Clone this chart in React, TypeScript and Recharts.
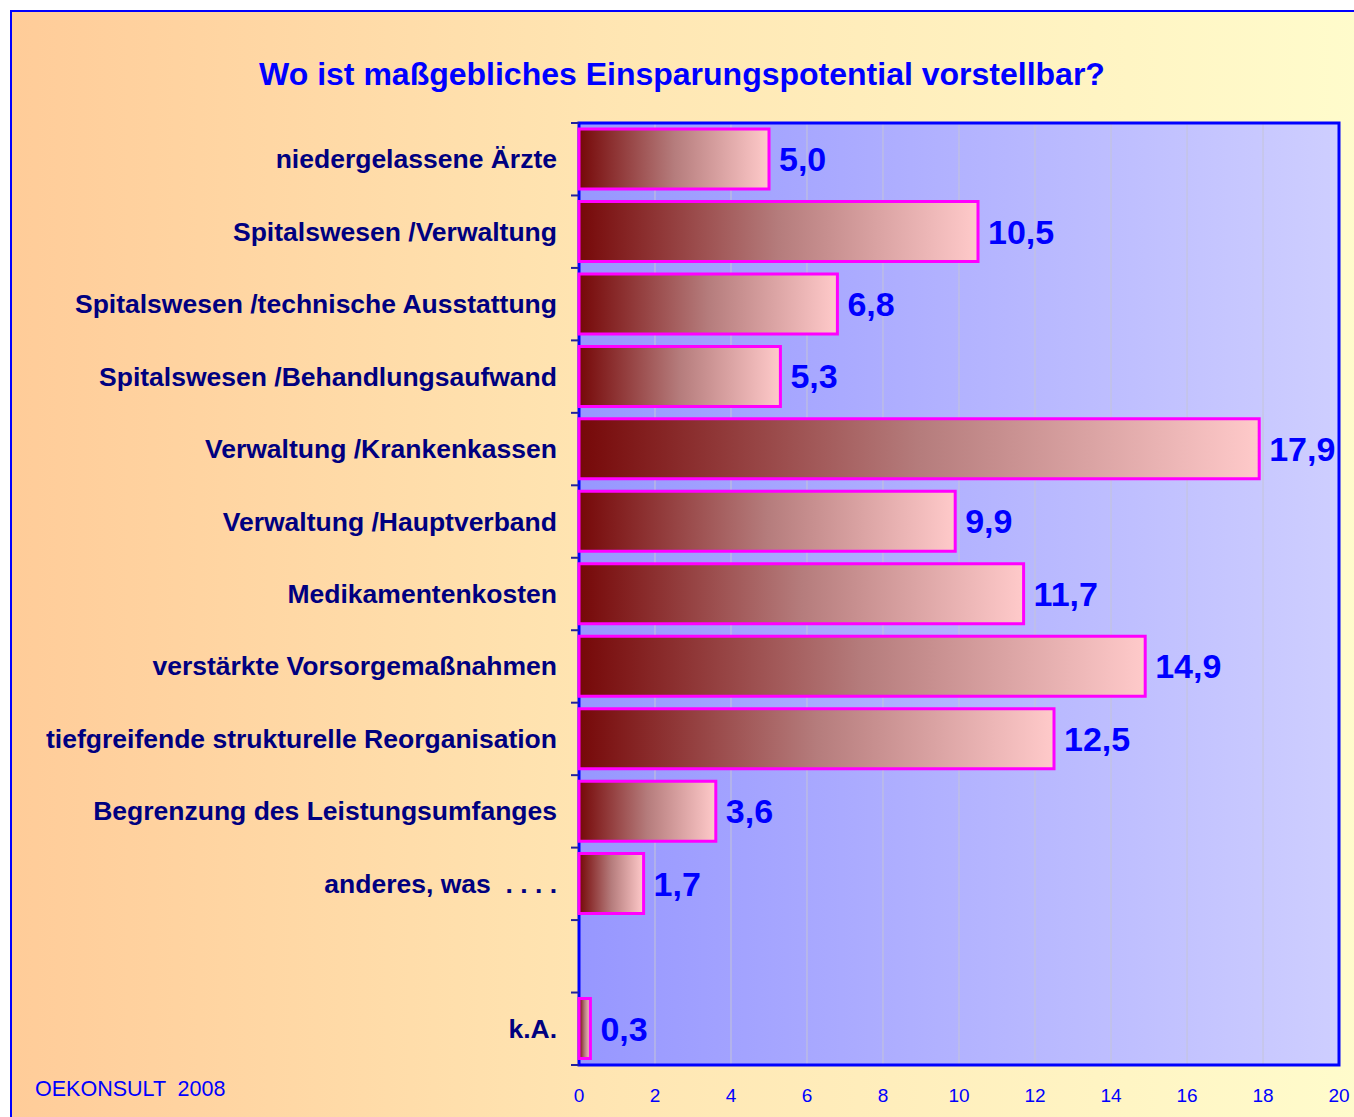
import { BarChart, Bar, XAxis, YAxis, CartesianGrid, ReferenceArea, LabelList } from 'recharts';

const categories = [
  'niedergelassene Ärzte',
  'Spitalswesen /Verwaltung',
  'Spitalswesen /technische Ausstattung',
  'Spitalswesen /Behandlungsaufwand',
  'Verwaltung /Krankenkassen',
  'Verwaltung /Hauptverband',
  'Medikamentenkosten',
  'verstärkte Vorsorgemaßnahmen',
  'tiefgreifende strukturelle Reorganisation',
  'Begrenzung des Leistungsumfanges',
  'anderes, was  . . . .',
  '',
  'k.A.',
];

const values: (number | null)[] = [5.0, 10.5, 6.8, 5.3, 17.9, 9.9, 11.7, 14.9, 12.5, 3.6, 1.7, null, 0.3];

const xTicks = [0, 2, 4, 6, 8, 10, 12, 14, 16, 18, 20];

const title = 'Wo ist maßgebliches Einsparungspotential vorstellbar?';
const footer = 'OEKONSULT  2008';

const chartData = categories.map((name, i) => ({ name, value: values[i] }));

const W = 1354;
const H = 1117;
const FONT = '"Liberation Sans", Arial, sans-serif';

// label on the left plus a small tick at the band edge
function CategoryTick(props: any) {
  const { x, y, payload, index } = props;
  const half = payload?.offset ?? 36.2;
  const isLast = index === categories.length - 1;
  return (
    <g>
      <line x1={x} x2={x + 8} y1={y - half} y2={y - half} stroke="#2020a0" strokeWidth={2} />
      {isLast && <line x1={x} x2={x + 8} y1={y + half} y2={y + half} stroke="#2020a0" strokeWidth={2} />}
      <text
        x={x - 14}
        y={y}
        dy={9}
        textAnchor="end"
        fill="#000080"
        fontFamily={FONT}
        fontWeight="bold"
        fontSize={26.5}
        style={{ whiteSpace: 'pre' }}
      >
        {payload.value}
      </text>
    </g>
  );
}

export default function App() {
  return (
    <div style={{ position: 'absolute', left: 0, top: 0, width: W, height: H, overflow: 'hidden', background: '#fff' }}>
      <div
        style={{
          position: 'absolute',
          left: 10,
          top: 10,
          width: W,
          height: H,
          border: '2px solid #0000ff',
          background: 'linear-gradient(to right, #ffcc99 0%, #ffe6b3 45%, #fffccc 100%)',
        }}
      />
      <div
        style={{
          position: 'absolute',
          left: 0,
          top: 56,
          width: 1364,
          textAlign: 'center',
          color: '#0000ff',
          fontFamily: FONT,
          fontWeight: 'bold',
          fontSize: 32,
        }}
      >
        {title}
      </div>
      <div
        style={{
          position: 'absolute',
          left: 35,
          top: 1077,
          color: '#0000ff',
          fontFamily: FONT,
          fontSize: 21.5,
          whiteSpace: 'pre',
        }}
      >
        {footer}
      </div>
      <div style={{ position: 'absolute', left: 0, top: 0 }}>
        <BarChart
          width={W}
          height={H}
          data={chartData}
          layout="vertical"
          margin={{ top: 123, right: 15, left: 10, bottom: 0 }}
          barSize={60}
        >
          <defs>
            <linearGradient id="plotGrad" x1="0" y1="0" x2="1" y2="0">
              <stop offset="0%" stopColor="#9797ff" />
              <stop offset="100%" stopColor="#ceceff" />
            </linearGradient>
            <linearGradient id="barGrad" x1="0" y1="0" x2="1" y2="0">
              <stop offset="0%" stopColor="#760808" />
              <stop offset="50%" stopColor="#b57c7c" />
              <stop offset="100%" stopColor="#ffcaca" />
            </linearGradient>
          </defs>
          <CartesianGrid horizontal={false} stroke="#c4c4d8" fill="url(#plotGrad)" fillOpacity={1} />
          <XAxis
            type="number"
            domain={[0, 20]}
            ticks={xTicks}
            height={52}
            tickLine={false}
            axisLine={false}
            tickMargin={18}
            tick={{ fill: '#0000ff', fontSize: 19, fontFamily: FONT }}
          />
          <YAxis
            type="category"
            dataKey="name"
            width={569}
            tickLine={false}
            axisLine={false}
            interval={0}
            tick={<CategoryTick />}
          />
          <ReferenceArea x1={0} x2={20} fill="none" stroke="#0000ff" strokeWidth={3} ifOverflow="visible" />
          <Bar dataKey="value" fill="url(#barGrad)" stroke="#ff00ff" strokeWidth={3} isAnimationActive={false}>
            <LabelList
              dataKey="value"
              position="right"
              offset={10}
              fill="#0000ff"
              fontFamily={FONT}
              fontWeight="bold"
              fontSize={34}
              formatter={(v: any) => (v == null ? '' : Number(v).toFixed(1).replace('.', ','))}
            />
          </Bar>
        </BarChart>
      </div>
    </div>
  );
}
